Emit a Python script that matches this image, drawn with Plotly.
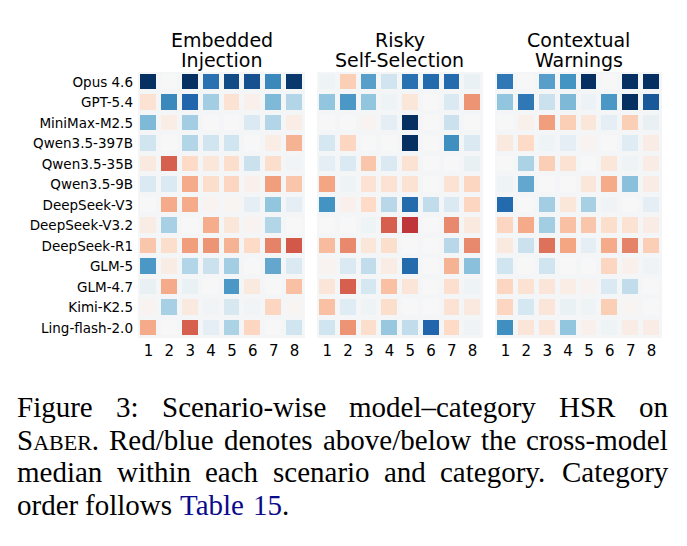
import plotly.graph_objects as go

# ---------------- data ----------------
models = ["Opus 4.6", "GPT-5.4", "MiniMax-M2.5", "Qwen3.5-397B", "Qwen3.5-35B",
          "Qwen3.5-9B", "DeepSeek-V3", "DeepSeek-V3.2", "DeepSeek-R1", "GLM-5",
          "GLM-4.7", "Kimi-K2.5", "Ling-flash-2.0"]
categories = ["1", "2", "3", "4", "5", "6", "7", "8"]
scenario_titles = [["Embedded", "Injection"], ["Risky", "Self-Selection"], ["Contextual", "Warnings"]]

# signed deviation from cross-model median (red = above, blue = below)
embedded_injection = [
    [-1.00, 0.00, -1.00, -0.75, -0.90, -0.88, -0.65, -0.97],
    [0.15, -0.65, -0.80, -0.35, 0.15, 0.05, -0.45, -0.30],
    [-0.45, 0.07, -0.35, 0.00, 0.00, -0.15, -0.30, 0.07],
    [-0.20, 0.00, -0.30, -0.20, -0.20, 0.00, 0.07, 0.35],
    [0.10, 0.60, 0.20, 0.12, 0.18, -0.22, 0.18, -0.03],
    [-0.15, -0.15, 0.38, 0.18, 0.22, 0.05, 0.42, 0.28],
    [0.00, 0.38, 0.38, 0.03, 0.02, -0.10, -0.40, -0.10],
    [0.08, -0.33, 0.00, 0.37, 0.12, 0.03, -0.30, 0.00],
    [0.28, 0.18, 0.42, 0.45, 0.35, 0.20, 0.50, 0.62],
    [-0.58, 0.08, -0.30, -0.22, -0.35, 0.00, -0.52, -0.15],
    [-0.08, 0.38, -0.07, 0.00, -0.58, 0.10, 0.00, 0.30],
    [0.03, -0.33, 0.10, -0.03, -0.17, -0.03, 0.22, 0.02],
    [0.38, 0.00, 0.60, -0.10, -0.32, 0.22, 0.00, -0.20],
]
risky_self_selection = [
    [-0.05, 0.25, -0.55, -0.20, -0.75, -0.78, -0.78, -0.07],
    [-0.40, -0.58, -0.40, -0.05, 0.12, 0.00, -0.15, 0.45],
    [0.00, 0.00, 0.03, -0.10, -1.00, 0.00, -0.22, 0.00],
    [-0.18, 0.22, 0.00, 0.00, -1.00, 0.00, -0.62, -0.15],
    [-0.10, -0.15, 0.28, -0.15, 0.15, 0.00, 0.00, -0.08],
    [0.40, -0.05, 0.15, 0.15, 0.15, 0.00, 0.15, 0.22],
    [-0.60, 0.05, 0.20, -0.28, -0.78, -0.25, -0.15, 0.22],
    [0.00, 0.00, -0.05, 0.60, 0.72, 0.00, 0.48, 0.10],
    [0.32, 0.48, 0.12, 0.18, 0.00, 0.00, -0.28, 0.48],
    [0.03, -0.15, -0.25, 0.08, -0.78, 0.00, 0.35, -0.42],
    [0.13, 0.60, -0.18, 0.30, 0.13, 0.00, 0.17, -0.05],
    [0.30, -0.12, -0.05, 0.18, 0.00, 0.00, 0.15, 0.10],
    [-0.20, 0.45, 0.18, -0.38, -0.25, -0.80, 0.20, -0.04],
]
contextual_warnings = [
    [-0.72, 0.00, -0.55, -0.60, -1.00, 0.00, -1.00, -1.00],
    [-0.40, -0.72, -0.22, -0.45, -0.06, -0.58, -1.00, -0.85],
    [0.00, 0.05, 0.42, 0.25, 0.12, -0.10, 0.25, -0.08],
    [0.10, 0.20, -0.05, -0.10, 0.03, 0.00, -0.12, 0.08],
    [0.00, -0.32, 0.25, 0.15, 0.00, 0.12, -0.05, 0.08],
    [-0.05, -0.52, 0.00, 0.00, 0.12, 0.38, -0.42, 0.08],
    [-0.78, 0.00, -0.35, 0.12, -0.33, -0.04, 0.00, -0.10],
    [0.22, 0.38, -0.35, 0.30, 0.28, 0.18, 0.15, 0.08],
    [0.10, -0.22, 0.55, 0.40, -0.10, 0.38, 0.50, 0.25],
    [-0.20, 0.00, -0.20, 0.00, 0.00, 0.22, 0.05, -0.04],
    [0.22, 0.15, 0.13, 0.07, 0.03, -0.15, -0.25, 0.00],
    [0.22, -0.18, 0.13, -0.07, -0.05, 0.25, 0.02, 0.00],
    [-0.62, 0.13, 0.13, -0.40, 0.05, -0.05, 0.08, 0.08],
]
panels = [embedded_injection, risky_self_selection, contextual_warnings]

caption_lines = [
    ["Figure", "3:", "Scenario-wise", "model\u2013category", "HSR", "on"],
    ["S|ABER.", "Red/blue", "denotes", "above/below", "the", "cross-model"],
    ["median", "within", "each", "scenario", "and", "category.", "Category"],
    ["order", "follows", "#Table", "#15", "."],
]

# ---------------- style ----------------
W, H = 687, 546
rdbu_r = ["#053061", "#2166ac", "#4393c3", "#92c5de", "#d1e5f0", "#f7f7f7",
          "#fddbc7", "#f4a582", "#d6604d", "#b2182b", "#67001f"]
colorscale = [[i / 10, c] for i, c in enumerate(rdbu_r)]
panel_px = [(138, 305), (317, 483), (495, 662)]
top_px, bot_px = 72, 338
sans = "DejaVu Sans"
serif = "Liberation Serif"

fig = go.Figure()
layout = dict(width=W, height=H, margin=dict(l=0, r=0, t=0, b=0),
              paper_bgcolor="white", plot_bgcolor="#f4f5f7", showlegend=False)

annotations = []
for k, (z, (x0, x1)) in enumerate(zip(panels, panel_px)):
    sfx = "" if k == 0 else str(k + 1)
    fig.add_trace(go.Heatmap(
        z=z, x=categories, y=models, colorscale=colorscale, zmin=-1, zmax=1,
        showscale=False, xgap=5, ygap=5,
        xaxis="x" + sfx, yaxis="y" + sfx, hoverinfo="skip"))
    layout["xaxis" + sfx] = dict(domain=[x0 / W, x1 / W], anchor="y" + sfx,
                                 showgrid=False, zeroline=False, ticks="",
                                 tickfont=dict(family=sans, size=15, color="black"),
                                 ticklabelstandoff=2)
    layout["yaxis" + sfx] = dict(domain=[1 - bot_px / H, 1 - top_px / H], anchor="x" + sfx,
                                 autorange="reversed", showgrid=False, zeroline=False,
                                 ticks="", showticklabels=(k == 0), ticklabelstandoff=4,
                                 tickfont=dict(family=sans, size=13.5, color="black"))
    cx = (x0 + x1) / 2 / W
    for j, (txt, ypx) in enumerate(zip(scenario_titles[k], [40, 60])):
        annotations.append(dict(text=txt, x=cx, y=1 - ypx / H, xref="paper", yref="paper",
                                xanchor="center", yanchor="middle", showarrow=False,
                                font=dict(family=sans, size=19, color="black")))

# ---- caption (justified, Times metrics) ----
tw = {' ': 250, 'a': 444, 'b': 500, 'c': 444, 'd': 500, 'e': 444, 'f': 333, 'g': 500,
      'h': 500, 'i': 278, 'j': 278, 'k': 500, 'l': 278, 'm': 778, 'n': 500, 'o': 500,
      'p': 500, 'q': 500, 'r': 333, 's': 389, 't': 278, 'u': 500, 'v': 500, 'w': 722,
      'x': 500, 'y': 500, 'z': 444, 'A': 722, 'B': 667, 'C': 667, 'D': 722, 'E': 611,
      'F': 556, 'H': 722, 'R': 667, 'S': 556, 'T': 611, ':': 278, '.': 250, '-': 333,
      '/': 278, '\u2013': 500, '1': 500, '3': 500, '5': 500}
FS, SC = 29, 22
left_px, right_px = 17, 668
line_y = [407, 440, 472, 505]


def word_width(w):
    if "|" in w:
        a, b = w.split("|")
        caps = b.rstrip(".")
        return (sum(tw[c] for c in a) * FS + sum(tw[c] for c in caps) * SC
                + sum(tw[c] for c in b[len(caps):]) * FS) / 1000
    return sum(tw[c] for c in w.lstrip("#")) * FS / 1000


def word_html(w):
    if "|" in w:
        a, b = w.split("|")
        caps = b.rstrip(".")
        return a + "<span style='font-size:%dpx'>%s</span>%s" % (SC, caps, b[len(caps):])
    return w.lstrip("#")


for li, words in enumerate(caption_lines):
    widths = [word_width(w) for w in words]
    last = li == len(caption_lines) - 1
    if last:
        gaps = [tw[' '] * FS / 1000] * (len(words) - 1)
        gaps[-1] = 0
    else:
        g = (right_px - left_px - sum(widths)) / (len(words) - 1)
        gaps = [g] * (len(words) - 1)
    x = left_px
    for i, w in enumerate(words):
        col = "#0a0a8a" if w.startswith("#") else "black"
        annotations.append(dict(text=word_html(w), x=(x - 2) / W, y=1 - line_y[li] / H,
                                xref="paper", yref="paper", xanchor="left", yanchor="middle",
                                showarrow=False, font=dict(family=serif, size=FS, color=col)))
        x += widths[i] + (gaps[i] if i < len(gaps) else 0)

layout["annotations"] = annotations
fig.update_layout(**layout)
fig.write_html("out.html")
